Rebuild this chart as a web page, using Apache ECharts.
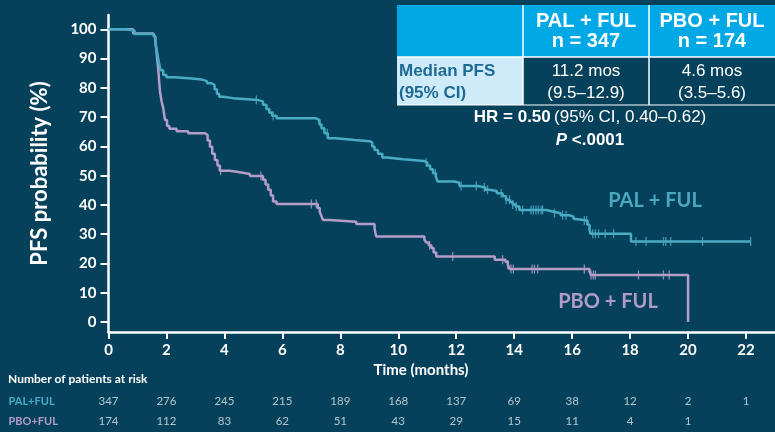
<!DOCTYPE html>
<html>
<head>
<meta charset="utf-8">
<script src="https://cdn.jsdelivr.net/npm/echarts@6/dist/echarts.min.js"></script>
<style>
  html, body { margin: 0; padding: 0; background: #05415b; }
  #main { width: 775px; height: 432px; }
</style>
</head>
<body>
<div id="main"></div>
<script>
// KM curves, [month, PFS %], step at each point
var palKM = [[0,100],[0.6,99.6],[0.9,98.4],[1.55,97.6],[1.62,95],[1.68,92],[1.74,88.5],[1.8,86],[1.89,84.4],[2.0,83.6],[2.3,83.2],[2.87,82.9],[3.21,82.3],[3.4,81.6],[3.56,81],[3.66,79.5],[3.74,78],[3.82,77],[3.95,76.5],[4.3,75.9],[5.15,75.4],[5.33,74.2],[5.45,72.8],[5.55,71.5],[5.65,70.5],[5.8,69.6],[7.17,69],[7.28,67.5],[7.35,66.2],[7.45,64.5],[7.57,62.8],[7.85,62.2],[8.5,61.8],[9.01,61.4],[9.1,60],[9.18,58.8],[9.3,57.5],[9.45,56.2],[9.6,55.6],[10.16,55],[10.9,54.5],[11.0,53.5],[11.1,52.2],[11.2,50.8],[11.3,49.5],[11.36,48],[11.94,47.6],[12.11,46.5],[12.75,46],[13.0,45.2],[13.14,44.8],[13.4,44],[13.6,43],[13.72,41.8],[13.85,41],[13.95,40.2],[14.05,39.5],[14.18,38.3],[15.1,37.8],[15.33,37.2],[15.6,36.5],[15.9,36],[16.05,35.2],[16.13,34.7],[16.53,33.2],[16.6,31.5],[16.65,30.2],[18.03,27.5],[22.16,27.5]];
var pboKM = [[0,100],[0.85,98.6],[1.54,98],[1.6,97.5],[1.64,94],[1.68,90],[1.72,86],[1.75,82],[1.78,78.5],[1.83,75.5],[1.89,73],[1.95,69],[2.02,67],[2.1,66],[2.35,65.2],[2.75,64.5],[3.33,63.9],[3.42,62],[3.5,59.9],[3.58,57.5],[3.67,55.4],[3.76,53.5],[3.84,51.7],[4.19,51.2],[4.53,50.6],[4.88,49.9],[5.33,48.6],[5.42,47],[5.51,45.2],[5.6,43.2],[5.68,41.2],[5.8,40.3],[7.22,39],[7.29,37.7],[7.35,36.2],[7.4,34.9],[7.63,34.3],[8.55,33.5],[9.18,32.1],[9.21,30.5],[9.24,29.2],[10.9,28.2],[10.96,27.2],[11.05,26.2],[11.14,25.3],[11.22,23.8],[11.31,22.4],[13.33,21.3],[13.7,20.6],[13.78,19.6],[13.84,18.1],[16.6,17.3],[16.65,16.1],[20.0,0]];

// censored observations
var palCens = [[5.1,75.9],[5.68,70.5],[7.55,64.5],[10.96,54.5],[11.28,50.8],[12.17,46.5],[12.69,46.5],[12.97,46],[13.08,45.2],[13.55,44],[13.72,41.8],[13.84,41.8],[13.95,40.2],[14.07,39.5],[14.29,38.3],[14.58,38.3],[14.66,38.3],[14.75,38.3],[14.83,38.3],[14.93,38.3],[14.98,38.3],[15.39,37.2],[15.67,36.5],[15.79,36.5],[16.42,34.7],[16.5,34.7],[16.6,31.5],[16.71,30.2],[16.8,30.2],[16.91,30.2],[17.14,30.2],[17.43,30.2],[18.2,27.5],[18.55,27.5],[19.15,27.5],[19.23,27.5],[19.4,27.5],[20.5,27.5],[22.16,27.5]];
var pboCens = [[3.87,51.7],[5.26,49.9],[7.0,40.3],[7.17,40.3],[11.08,26.2],[11.88,22.4],[13.6,21.3],[13.78,19.6],[13.89,18.1],[13.97,18.1],[14.62,18.1],[14.7,18.1],[14.81,18.1],[16.42,18.1],[16.65,16.1],[16.73,16.1],[16.8,16.1],[18.29,16.1],[19.15,16.1],[19.35,16.1]];

// axis ticks
var xTicks = [0,2,4,6,8,10,12,14,16,18,20,22];
var yTicks = [0,10,20,30,40,50,60,70,80,90,100];

// number at risk
var riskRows = ['PAL+FUL','PBO+FUL'];
var palRisk = [347,276,245,215,189,168,137,69,38,12,2,1];
var pboRisk = [174,112,83,62,51,43,29,15,11,4,1];

var palColor = '#4aabc4';
var pboColor = '#b59dca';
var bg = '#05415b';
var calib = 'Lato, "Open Sans", sans-serif';
var arial = '"Liberation Sans", Arial, sans-serif';

function riskData(vals, row) {
    var out = [];
    for (var i = 0; i < vals.length; i++) {
        out.push([xTicks[i], row, vals[i]]);
    }
    return out;
}

var chart = echarts.init(document.getElementById('main'));

var option = {
    backgroundColor: bg,
    animation: false,
    grid: [
        {left: 108.5, top: 15, width: 667.5, height: 317},
        {left: 108.5, top: 391, width: 667.5, height: 40}
    ],
    xAxis: [
        {
            type: 'value', gridIndex: 0, min: 0, max: 23,
            axisLine: {show: true, onZero: false, lineStyle: {color: '#ffffff', width: 2.5}},
            axisTick: {show: true, length: 7, lineStyle: {color: '#ffffff', width: 2}, customValues: xTicks},
            axisLabel: {color: '#ffffff', fontFamily: calib, fontWeight: 'bold', fontSize: 15, margin: 11, customValues: xTicks},
            splitLine: {show: false}
        },
        {type: 'value', gridIndex: 1, min: 0, max: 23, show: false}
    ],
    yAxis: [
        {
            type: 'value', gridIndex: 0, min: -3.4, max: 104.9,
            name: 'PFS probability (%)', nameLocation: 'middle', nameGap: 58, nameRotate: 90,
            nameTextStyle: {color: '#ffffff', fontFamily: calib, fontWeight: 'bold', fontSize: 22},
            axisLine: {show: true, lineStyle: {color: '#ffffff', width: 2.5}},
            axisTick: {show: true, length: 8, lineStyle: {color: '#ffffff', width: 2}, customValues: yTicks},
            axisLabel: {color: '#ffffff', fontFamily: calib, fontWeight: 'bold', fontSize: 15, margin: 12, customValues: yTicks},
            splitLine: {show: false}
        },
        {
            type: 'category', gridIndex: 1, data: riskRows, inverse: true,
            axisLine: {show: false}, axisTick: {show: false},
            axisLabel: {
                align: 'left', margin: 100, fontFamily: calib, fontSize: 11,
                formatter: function (v) { return v === 'PAL+FUL' ? '{a|' + v + '}' : '{b|' + v + '}'; },
                rich: {
                    a: {color: palColor, fontFamily: calib, fontSize: 11, fontWeight: 'bold'},
                    b: {color: pboColor, fontFamily: calib, fontSize: 11, fontWeight: 'bold'}
                }
            }
        }
    ],
    series: [
        {
            name: 'PAL + FUL', type: 'line', step: 'end', data: palKM, showSymbol: false,
            lineStyle: {color: palColor, width: 2.5}, z: 3
        },
        {
            name: 'PBO + FUL', type: 'line', step: 'end', data: pboKM, showSymbol: false,
            lineStyle: {color: pboColor, width: 2.5}, z: 2
        },
        {
            type: 'scatter', data: palCens, symbol: 'rect', symbolSize: [1.3, 9],
            itemStyle: {color: palColor}, z: 4
        },
        {
            type: 'scatter', data: pboCens, symbol: 'rect', symbolSize: [1.3, 9],
            itemStyle: {color: pboColor}, z: 4
        },
        {
            type: 'scatter', xAxisIndex: 1, yAxisIndex: 1, symbolSize: 0,
            data: riskData(palRisk, 'PAL+FUL'),
            label: {show: true, position: 'inside', color: '#dde5ea', fontFamily: calib, fontSize: 11.5,
                formatter: function (p) { return p.value[2]; }}
        },
        {
            type: 'scatter', xAxisIndex: 1, yAxisIndex: 1, symbolSize: 0,
            data: riskData(pboRisk, 'PBO+FUL'),
            label: {show: true, position: 'inside', color: '#dde5ea', fontFamily: calib, fontSize: 11.5,
                formatter: function (p) { return p.value[2]; }}
        }
    ],
    graphic: [
        // median PFS table
        {type: 'rect', shape: {x: 397, y: 5, width: 378, height: 52}, style: {fill: '#00a8e6'}},
        {type: 'rect', shape: {x: 397, y: 57, width: 126, height: 48}, style: {fill: '#cfeaf8'}},
        {type: 'line', shape: {x1: 397, y1: 57, x2: 775, y2: 57}, style: {stroke: '#ffffff', lineWidth: 1.5}},
        {type: 'line', shape: {x1: 397, y1: 105, x2: 775, y2: 105}, style: {stroke: '#ffffff', lineWidth: 1}},
        {type: 'line', shape: {x1: 523, y1: 5, x2: 523, y2: 105}, style: {stroke: '#ffffff', lineWidth: 1.5}},
        {type: 'line', shape: {x1: 649, y1: 5, x2: 649, y2: 105}, style: {stroke: '#ffffff', lineWidth: 1.5}},
        {type: 'text', x: 586, y: 31, style: {text: 'PAL + FUL\nn = 347', fill: '#ffffff', font: 'bold 20px ' + arial, align: 'center', verticalAlign: 'middle', lineHeight: 20}},
        {type: 'text', x: 712, y: 31, style: {text: 'PBO + FUL\nn = 174', fill: '#ffffff', font: 'bold 20px ' + arial, align: 'center', verticalAlign: 'middle', lineHeight: 20}},
        {type: 'text', x: 399, y: 82, style: {text: 'Median PFS\n(95% CI)', fill: '#1d6a95', font: 'bold 17px ' + arial, align: 'left', verticalAlign: 'middle', lineHeight: 22}},
        {type: 'text', x: 586, y: 82, style: {text: '11.2 mos\n(9.5\u201312.9)', fill: '#ffffff', font: '17px ' + arial, align: 'center', verticalAlign: 'middle', lineHeight: 22}},
        {type: 'text', x: 712, y: 82, style: {text: '4.6 mos\n(3.5\u20135.6)', fill: '#ffffff', font: '17px ' + arial, align: 'center', verticalAlign: 'middle', lineHeight: 22}},
        {type: 'text', x: 590, y: 117, style: {
            text: '{b|HR = 0.50} {r|(95% CI, 0.40\u20130.62)}', align: 'center', verticalAlign: 'middle',
            rich: {b: {fill: '#ffffff', font: 'bold 17px ' + arial}, r: {fill: '#ffffff', font: '17px ' + arial}}
        }},
        {type: 'text', x: 590, y: 140, style: {
            text: '{i|P}{b| <.0001}', align: 'center', verticalAlign: 'middle',
            rich: {i: {fill: '#ffffff', font: 'italic bold 17px ' + arial}, b: {fill: '#ffffff', font: 'bold 17px ' + arial}}
        }},
        // curve labels
        {type: 'text', x: 655, y: 201, style: {text: 'PAL + FUL', fill: '#4aa7c0', font: 'bold 20px ' + calib, align: 'center', verticalAlign: 'middle'}},
        {type: 'text', x: 608, y: 302, style: {text: 'PBO + FUL', fill: '#b19bc8', font: 'bold 20px ' + calib, align: 'center', verticalAlign: 'middle'}},
        // axis title and risk table heading
        {type: 'text', x: 421, y: 370, style: {text: 'Time (months)', fill: '#ffffff', font: 'bold 15px ' + calib, align: 'center', verticalAlign: 'middle'}},
        {type: 'text', x: 8, y: 379, style: {text: 'Number of patients at risk', fill: '#ffffff', font: 'bold 12px ' + calib, align: 'left', verticalAlign: 'middle'}}
    ]
};

chart.setOption(option);
</script>
</body>
</html>
